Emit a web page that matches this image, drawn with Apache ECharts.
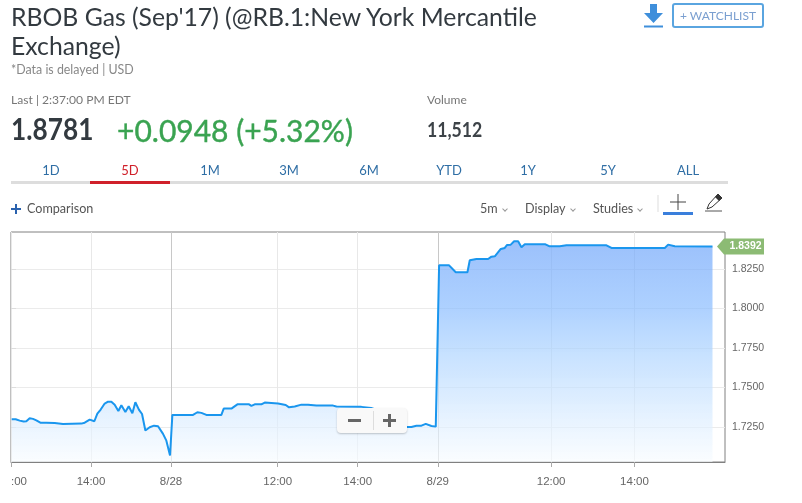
<!DOCTYPE html>
<html>
<head>
<meta charset="utf-8">
<title>RBOB Gas</title>
<style>
    html, body { margin: 0; padding: 0; background: #fff; }
    body { width: 802px; height: 503px; position: relative; overflow: hidden; font-family: Lato, sans-serif; }
    #chart { position: absolute; left: 0; top: 0; width: 802px; height: 503px; }
    .t { position: absolute; white-space: nowrap; line-height: 1; }
    .title { left: 11px; font-size: 24.75px; color: #333a40; }
    .tab { top: 164px; width: 80px; text-align: center; font-size: 13px; color: #2f6ea5; }
    .menu { top: 203px; font-size: 12.6px; color: #555; }
    .menu i { display: inline-block; width: 3px; height: 3px; margin: 0 0 2px 5px; border-right: 1px solid #999; border-bottom: 1px solid #999; transform: rotate(45deg); }
    .bar { position: absolute; left: 11px; top: 181px; width: 717px; height: 3px; background: #ddd; }
    .bar b { position: absolute; left: 79px; top: 0; width: 80px; height: 3px; background: #d0202a; }
    .watch { position: absolute; left: 672px; top: 3px; width: 88px; height: 21px; border: 2px solid #5aa5e0; border-radius: 3px; text-align: center; font-size: 12px; line-height: 21px; color: #7a9fd0; }
    .zoomctl { position: absolute; left: 337px; top: 408px; width: 70px; height: 25px; background: #f9f9f9; border-radius: 4px; box-shadow: 0 1px 2px rgba(0,0,0,.22); }
    svg { position: absolute; }
</style>
</head>
<body>
<div id="chart"></div>

<div class="t title" style="top:5px">RBOB Gas (Sep'17) (@RB.1:New York Mercantile</div>
<div class="t title" style="top:34px">Exchange)</div>
<div class="t" style="left:11px;top:64px;font-size:12.4px;color:#888">*Data is delayed | USD</div>
<div class="t" style="left:11px;top:94px;font-size:12.1px;color:#777">Last | 2:37:00 PM EDT</div>
<div class="t" style="left:427px;top:94px;font-size:12px;color:#777">Volume</div>
<div class="t" style="left:11px;top:114px;font-size:29.5px;font-weight:bold;color:#333a40;transform:scaleX(.89);transform-origin:left">1.8781</div>
<div class="t" style="left:117px;top:115px;font-size:30px;color:#3aa351;-webkit-text-stroke:.4px #3aa351">+0.0948 (+5.32%)</div>
<div class="t" style="left:427px;top:119px;font-size:21.5px;font-weight:bold;color:#3d4348;transform:scaleX(.82);transform-origin:left">11,512</div>

<svg style="left:644px;top:4px" width="20" height="24"><path d="M6 0h7v9h6l-9.5 10L0 9h6z" fill="#3f8fdb"/><rect y="21.5" width="19" height="2" fill="#3f8fdb"/></svg>
<div class="watch">+ WATCHLIST</div>

<div class="bar"><b></b></div>
<div class="t tab" style="left:11px">1D</div>
<div class="t tab" style="left:90px;color:#d0202a">5D</div>
<div class="t tab" style="left:170px">1M</div>
<div class="t tab" style="left:249px">3M</div>
<div class="t tab" style="left:329px">6M</div>
<div class="t tab" style="left:409px">YTD</div>
<div class="t tab" style="left:488px">1Y</div>
<div class="t tab" style="left:568px">5Y</div>
<div class="t tab" style="left:648px">ALL</div>

<svg style="left:11px;top:204px" width="10" height="10"><path d="M0 5h10M5 0v10" stroke="#2a62ae" stroke-width="2"/></svg>
<div class="t menu" style="left:27px">Comparison</div>
<div class="t menu" style="left:480px">5m<i></i></div>
<div class="t menu" style="left:525px">Display<i></i></div>
<div class="t menu" style="left:593px">Studies<i></i></div>
<svg style="left:657px;top:192px" width="68" height="24">
    <path d="M1 3v17" stroke="#ddd"/>
    <path d="M13 10h16M21 2v16" stroke="#444" fill="none"/>
    <rect x="6" y="20" width="30" height="3" fill="#3a7fdc"/>
    <path d="M50 17l2-5 9-10 4 4-10 9z" stroke="#333" fill="#fff"/>
    <path d="M58 5l3-3 4 4-3 3z" fill="#333"/>
    <path d="M48 19h17" stroke="#555"/>
</svg>
<div class="zoomctl">
    <svg style="left:0;top:0" width="70" height="25">
        <path d="M11 12.5h13" stroke="#666" stroke-width="3"/>
        <path d="M36.5 3v19" stroke="#ddd"/>
        <path d="M46 12.5h13M52.5 6v13" stroke="#666" stroke-width="3"/>
    </svg>
</div>

<script src="https://cdn.jsdelivr.net/npm/echarts@6/dist/echarts.min.js"></script>
<script>
// 5 minute bars since the left edge of the chart
var barIndex = [0.2, 1.4, 2.6, 3.8, 4.6, 5.6, 6.6, 7.6, 8.8, 10.6, 13.1, 15.6, 21.1, 22.1, 23.6, 25, 25.9, 26.9, 28.1, 29.1,
    30.1, 31.1, 32.2, 33.1, 34.3, 35.3, 36.4, 37.3, 38.4, 39.3, 40.3, 41.6, 42.9, 44.1, 45.6, 46.6, 47.7, 48.4, 54.6, 55.9,
    57.1, 58.6, 63.1, 63.8, 66.1, 67.9, 71.4, 72.1, 73.1, 75.1, 76.1, 80.1, 82.4, 83.4, 85.1, 87.1, 89.1, 91.6, 96.6, 97.6,
    105.1, 108, 112, 116, 118.8, 120.1, 121.6, 123.1, 124.4, 126.1, 127.4, 128.4, 131.4, 133.4, 136.9, 137.6, 139.6, 143.1, 144.1, 145.1,
    146.9, 148.1, 148.8, 149.9, 150.9, 152.1, 153.1, 154.1, 160.3, 161.4, 164.6, 166.6, 178.6, 180.1, 196.1, 197.1, 199.1, 210.4];
var prices = [1.7299, 1.7299, 1.7290, 1.7284, 1.7286, 1.7305, 1.7301, 1.7292, 1.7277, 1.7277, 1.7275, 1.7269, 1.7271, 1.7277, 1.7296, 1.7286, 1.7334, 1.7360, 1.7398, 1.7410,
    1.7410, 1.7391, 1.7351, 1.7387, 1.7345, 1.7381, 1.7337, 1.7406, 1.7358, 1.7332, 1.7227, 1.7248, 1.7258, 1.7254, 1.7206, 1.7163, 1.7069, 1.7326, 1.7326, 1.7343,
    1.7339, 1.7326, 1.7326, 1.7366, 1.7366, 1.7393, 1.7393, 1.7383, 1.7393, 1.7393, 1.7404, 1.7398, 1.7389, 1.7374, 1.7379, 1.7391, 1.7391, 1.7385, 1.7385, 1.7379,
    1.7377, 1.7370, 1.7340, 1.7268, 1.7250, 1.7250, 1.7258, 1.7258, 1.7269, 1.7256, 1.7252, 1.8273, 1.8273, 1.8229, 1.8229, 1.8305, 1.8313, 1.8313, 1.8328, 1.8330,
    1.8377, 1.8383, 1.8402, 1.8404, 1.8425, 1.8425, 1.8387, 1.8406, 1.8406, 1.8394, 1.8394, 1.8400, 1.8400, 1.8383, 1.8383, 1.8404, 1.8394, 1.8392];
var xTickBars = [0, 24, 48, 80, 104, 128, 162, 187];
var xTickLabels = [':00', '14:00', '8/28', '12:00', '14:00', '8/29', '12:00', '14:00'];
var yTicks = [1.725, 1.75, 1.775, 1.8, 1.825];

(function() {
    var myChart = echarts.init(document.querySelector('#chart'));
    var seriesData = barIndex.map(function(b, i) {
        return [b, prices[i]];
    });
    var lastPoint = seriesData[seriesData.length - 1];
    var option = {
        animation: false,
        grid: {
            left: 11,
            right: 77,
            top: 232,
            height: 230,
            show: true,
            borderColor: '#808080',
            borderWidth: 1
        },
        xAxis: {
            type: 'value',
            min: 0,
            max: 214.15,
            axisLine: {
                lineStyle: { color: '#808080' }
            },
            axisTick: {
                customValues: xTickBars,
                length: 5,
                lineStyle: { color: '#aaa' }
            },
            axisLabel: {
                customValues: xTickBars,
                alignMinLabel: 'left',
                color: '#666',
                fontFamily: 'Liberation Sans',
                fontSize: 11.5,
                margin: 14,
                formatter: function(value) {
                    return xTickLabels[xTickBars.indexOf(value)];
                }
            },
            splitLine: {
                show: true,
                lineStyle: { color: ['#e8e8e8', '#e8e8e8', '#c8c8c8'] }
            }
        },
        yAxis: {
            type: 'value',
            position: 'right',
            min: 1.7028,
            max: 1.8484,
            axisLine: { show: false },
            axisTick: {
                show: true,
                customValues: yTicks,
                length: 5,
                lineStyle: { color: '#ddd' }
            },
            axisLabel: {
                customValues: yTicks,
                color: '#666',
                fontFamily: 'Liberation Sans',
                fontSize: 10.5,
                margin: 7,
                formatter: function(value) {
                    return value.toFixed(4);
                }
            },
            splitLine: {
                show: true,
                lineStyle: { color: '#ebebeb' }
            }
        },
        series: [{
            type: 'line',
            data: seriesData,
            showSymbol: false,
            symbol: 'none',
            lineStyle: { color: '#1a96ee', width: 2 },
            areaStyle: {
                color: new echarts.graphic.LinearGradient(0, 0, 0, 1, [
                    { offset: 0, color: 'rgba(108,163,250,0.97)' },
                    { offset: 0.3, color: 'rgba(135,187,255,0.97)' },
                    { offset: 0.5, color: 'rgba(170,210,255,0.96)' },
                    { offset: 0.75, color: 'rgba(210,232,255,0.95)' },
                    { offset: 1, color: 'rgba(248,252,255,0.9)' }
                ])
            },
            markPoint: {
                silent: true,
                symbol: 'path://M0 8L7 0H47V16H7Z',
                symbolSize: [47, 16],
                symbolKeepAspect: false,
                symbolOffset: [28, 0],
                itemStyle: { color: '#8cbb74' },
                label: {
                    color: '#fff',
                    fontFamily: 'Liberation Sans',
                    fontSize: 10.5,
                    fontWeight: 'bold',
                    offset: [5, 0],
                    formatter: function() {
                        return lastPoint[1].toFixed(4);
                    }
                },
                data: [{ coord: lastPoint }]
            }
        }]
    };
    myChart.setOption(option);
    window.addEventListener('resize', function() {
        myChart.resize();
    });
})();
</script>
</body>
</html>
